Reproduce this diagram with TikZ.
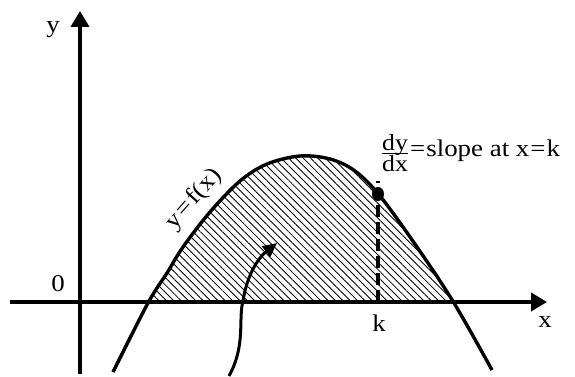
\documentclass[tikz,border=0pt]{standalone}
\usepackage{fontspec}
\setmainfont{Liberation Serif}[FakeStretch=1.12]
\usetikzlibrary{arrows.meta,patterns.meta,shapes.geometric}
\tikzset{
  axis/.style={line width=3.8pt,-{Triangle[length=16pt,width=18pt]}},
  curveline/.style={line width=3.4pt},
  lbl/.style={font=\fontsize{24}{28}\selectfont,inner sep=0pt},
  hatch/.style={pattern={Lines[angle=-45,distance=5.2pt,line width=0.85pt]}},
}
\def\curvepts{(113,372) (148,303) (167,273) (183,247) (210,212) (240,181) (267,164) (300,156) (330,159) (355,171) (380,196) (417,247) (454,303) (492,370)}
\begin{document}
\begin{tikzpicture}[x=1pt,y=-1pt]
\useasboundingbox (0,0) rectangle (575,377);
% points
\coordinate (ybot) at (80,374);
\coordinate (ytop) at (80,11);
\coordinate (xl) at (10,302);
\coordinate (xr) at (547,302);
% hatched region
\begin{scope}
\clip (0,0) rectangle (575,302);
\fill[hatch] plot[smooth,tension=0.55] coordinates {\curvepts} -- cycle;
\end{scope}
% curve
\draw[curveline] plot[smooth,tension=0.55] coordinates {\curvepts};
% axes
\draw[axis] (ybot) -- (ytop);
\draw[axis] (xl) -- (xr);
% dashed line and dot
\coordinate (kb) at (378,302);
\coordinate (kt) at (378,181);
\draw[line width=3.4pt,dash pattern=on 12pt off 5pt] (kb) -- (kt);
\node[ellipse,fill,inner sep=0pt,minimum width=12pt,minimum height=14pt] (dot) at (378,194) {};
% arrow
\coordinate (as) at (229,376);
\coordinate (am) at (243,301);
\coordinate (ae) at (277,243);
\draw[line width=3pt,-{Triangle[length=14pt,width=13pt]}] (as) .. controls (246,345) and (238,320) .. (am) .. controls (247,275) and (258,258) .. (ae);
% labels
\node[lbl] (ylab) at (53,30) {y};
\node[lbl] (xlab) at (545,322) {x};
\node[lbl] (zero) at (58,284) {0};
\node[lbl] (klab) at (379,323) {k};
\node[lbl,rotate=48.5] (flab) at (194,199) {y\kern2pt=\kern2pt f(x)};
\node[inner sep=0pt,font=\fontsize{23}{24}\selectfont] (frac) at (395,156) {\begin{tabular}{@{}c@{}}dy\\[-4pt]\hline\rule{0pt}{18pt}dx\end{tabular}};
\node[lbl,anchor=west] (slope) at (410,151) {=\kern1pt slope at x\kern1pt=\kern1pt k};
\end{tikzpicture}
\end{document}
